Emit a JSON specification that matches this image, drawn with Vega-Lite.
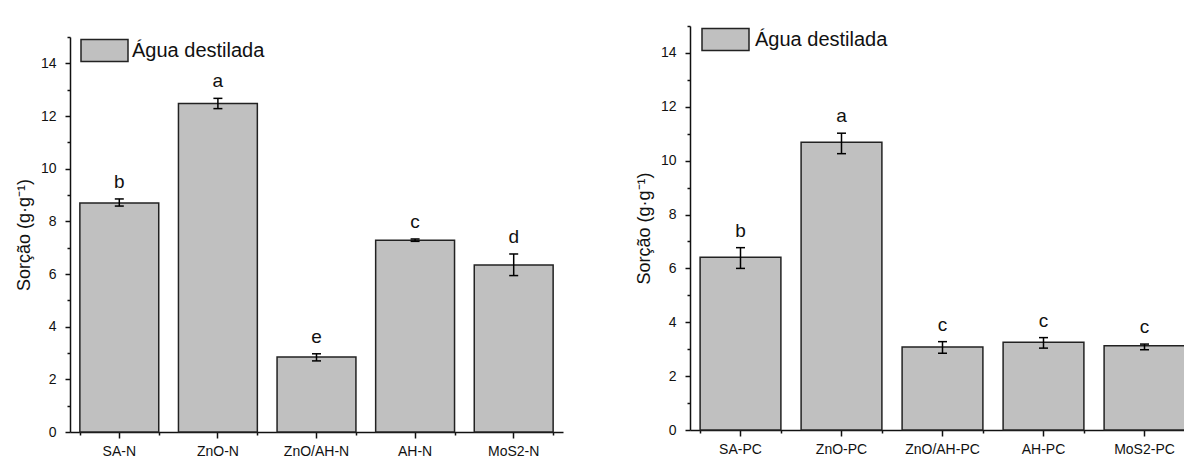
{
  "$schema": "https://vega.github.io/schema/vega-lite/v6.json",
  "padding": {"left": 15, "top": 15, "right": 0, "bottom": 0},
  "spacing": 127,
  "bounds": "flush",
  "resolve": {"scale": {"color": "independent"}, "legend": {"color": "independent"}},
  "config": {
    "font": "Liberation Sans",
    "view": {"stroke": null},
    "axis": {
      "domainColor": "#111", "domainWidth": 1.5,
      "tickColor": "#111", "tickWidth": 1.5,
      "labelColor": "#111", "labelFontSize": 14, "labelFont": "Liberation Sans",
      "titleFontSize": 18, "titleFontWeight": "normal", "titleColor": "#111", "titleFont": "Liberation Sans",
      "grid": false
    },
    "text": {"font": "Liberation Sans", "color": "#111"}
  },
  "hconcat": [
    {
      "width": 493,
      "height": 406,
      "data": {"values": [
        {"amostra": "SA-N", "serie": "Água destilada", "sorcao": 8.70, "inf": 8.58, "sup": 8.85, "letra": "b"},
        {"amostra": "ZnO-N", "serie": "Água destilada", "sorcao": 12.47, "inf": 12.28, "sup": 12.67, "letra": "a"},
        {"amostra": "ZnO/AH-N", "serie": "Água destilada", "sorcao": 2.85, "inf": 2.70, "sup": 2.97, "letra": "e"},
        {"amostra": "AH-N", "serie": "Água destilada", "sorcao": 7.28, "inf": 7.24, "sup": 7.33, "letra": "c"},
        {"amostra": "MoS2-N", "serie": "Água destilada", "sorcao": 6.34, "inf": 5.94, "sup": 6.76, "letra": "d"}
      ]},
      "layer": [
        {
          "mark": {"type": "bar", "stroke": "#222", "strokeWidth": 1.5},
          "encoding": {
            "x": {"field": "amostra", "type": "nominal", "sort": null,
                  "scale": {"paddingInner": 0.2, "paddingOuter": 0.1},
                  "axis": {"orient": "bottom", "labelAngle": 0, "tickSize": 6, "labelPadding": 6, "title": null}},
            "y": {"field": "sorcao", "type": "quantitative",
                  "scale": {"domain": [0, 15], "range": [406, 11], "nice": false},
                  "axis": {"orient": "left", "values": [0, 2, 4, 6, 8, 10, 12, 14], "title": "Sorção (g·g⁻¹)", "tickSize": 5, "labelPadding": 9, "titlePadding": 7}},
            "color": {"field": "serie", "type": "nominal", "scale": {"range": ["#c0c0c0"]},
                      "legend": {"orient": "none", "legendX": 10, "legendY": 0, "title": null, "padding": 0,
                                 "symbolType": "M-1,-0.468L1,-0.468L1,0.468L-1,0.468Z", "symbolSize": 2209,
                                 "symbolStrokeColor": "#222", "symbolStrokeWidth": 1.5, "symbolOpacity": 1,
                                 "labelFontSize": 20, "labelOffset": 3, "labelColor": "#111", "labelFont": "Liberation Sans"}}
          }
        },
        {
          "mark": {"type": "rule", "stroke": "#000", "strokeWidth": 1.5},
          "encoding": {
            "x": {"field": "amostra", "type": "nominal", "sort": null,
                  "axis": {"orient": "bottom", "tickBand": "extent", "tickSize": 3, "labels": false, "domain": false, "title": null}},
            "y": {"field": "inf", "type": "quantitative",
                  "axis": {"orient": "left", "values": [1, 3, 5, 7, 9, 11, 13, 15], "tickSize": 3, "labels": false, "domain": false, "title": null}},
            "y2": {"field": "sup"}
          }
        },
        {
          "mark": {"type": "tick", "color": "#000", "size": 9, "thickness": 1.5, "opacity": 1},
          "encoding": {
            "x": {"field": "amostra", "type": "nominal", "sort": null, "axis": null},
            "y": {"field": "inf", "type": "quantitative", "axis": null}
          }
        },
        {
          "mark": {"type": "tick", "color": "#000", "size": 9, "thickness": 1.5, "opacity": 1},
          "encoding": {
            "x": {"field": "amostra", "type": "nominal", "sort": null, "axis": null},
            "y": {"field": "sup", "type": "quantitative", "axis": null}
          }
        },
        {
          "mark": {"type": "text", "dy": -11, "baseline": "alphabetic", "fontSize": 19},
          "encoding": {
            "x": {"field": "amostra", "type": "nominal", "sort": null, "axis": null},
            "y": {"field": "sup", "type": "quantitative", "axis": null},
            "text": {"field": "letra"}
          }
        }
      ],
      "resolve": {"axis": {"x": "independent", "y": "independent"}}
    },
    {
      "width": 505,
      "height": 404,
      "data": {"values": [
        {"amostra": "SA-PC", "serie": "Água destilada", "sorcao": 6.41, "inf": 6.00, "sup": 6.77, "letra": "b"},
        {"amostra": "ZnO-PC", "serie": "Água destilada", "sorcao": 10.68, "inf": 10.26, "sup": 11.02, "letra": "a"},
        {"amostra": "ZnO/AH-PC", "serie": "Água destilada", "sorcao": 3.08, "inf": 2.85, "sup": 3.28, "letra": "c"},
        {"amostra": "AH-PC", "serie": "Água destilada", "sorcao": 3.26, "inf": 3.04, "sup": 3.43, "letra": "c"},
        {"amostra": "MoS2-PC", "serie": "Água destilada", "sorcao": 3.13, "inf": 2.98, "sup": 3.19, "letra": "c"}
      ]},
      "layer": [
        {
          "mark": {"type": "bar", "stroke": "#222", "strokeWidth": 1.5},
          "encoding": {
            "x": {"field": "amostra", "type": "nominal", "sort": null,
                  "scale": {"paddingInner": 0.2, "paddingOuter": 0.1},
                  "axis": {"orient": "bottom", "labelAngle": 0, "tickSize": 6, "labelPadding": 6, "title": null}},
            "y": {"field": "sorcao", "type": "quantitative",
                  "scale": {"domain": [0, 15], "nice": false},
                  "axis": {"orient": "left", "values": [0, 2, 4, 6, 8, 10, 12, 14], "title": "Sorção (g·g⁻¹)", "tickSize": 5, "labelPadding": 9, "titlePadding": 7}},
            "color": {"field": "serie", "type": "nominal", "scale": {"range": ["#c0c0c0"]},
                      "legend": {"orient": "none", "legendX": 11, "legendY": -11, "title": null, "padding": 0,
                                 "symbolType": "M-1,-0.468L1,-0.468L1,0.468L-1,0.468Z", "symbolSize": 2209,
                                 "symbolStrokeColor": "#222", "symbolStrokeWidth": 1.5, "symbolOpacity": 1,
                                 "labelFontSize": 20, "labelOffset": 5, "labelColor": "#111", "labelFont": "Liberation Sans"}}
          }
        },
        {
          "mark": {"type": "rule", "stroke": "#000", "strokeWidth": 1.5},
          "encoding": {
            "x": {"field": "amostra", "type": "nominal", "sort": null,
                  "axis": {"orient": "bottom", "tickBand": "extent", "tickSize": 3, "labels": false, "domain": false, "title": null}},
            "y": {"field": "inf", "type": "quantitative",
                  "axis": {"orient": "left", "values": [1, 3, 5, 7, 9, 11, 13, 15], "tickSize": 3, "labels": false, "domain": false, "title": null}},
            "y2": {"field": "sup"}
          }
        },
        {
          "mark": {"type": "tick", "color": "#000", "size": 9, "thickness": 1.5, "opacity": 1},
          "encoding": {
            "x": {"field": "amostra", "type": "nominal", "sort": null, "axis": null},
            "y": {"field": "inf", "type": "quantitative", "axis": null}
          }
        },
        {
          "mark": {"type": "tick", "color": "#000", "size": 9, "thickness": 1.5, "opacity": 1},
          "encoding": {
            "x": {"field": "amostra", "type": "nominal", "sort": null, "axis": null},
            "y": {"field": "sup", "type": "quantitative", "axis": null}
          }
        },
        {
          "mark": {"type": "text", "dy": -11, "baseline": "alphabetic", "fontSize": 19},
          "encoding": {
            "x": {"field": "amostra", "type": "nominal", "sort": null, "axis": null},
            "y": {"field": "sup", "type": "quantitative", "axis": null},
            "text": {"field": "letra"}
          }
        }
      ],
      "resolve": {"axis": {"x": "independent", "y": "independent"}}
    }
  ]
}
